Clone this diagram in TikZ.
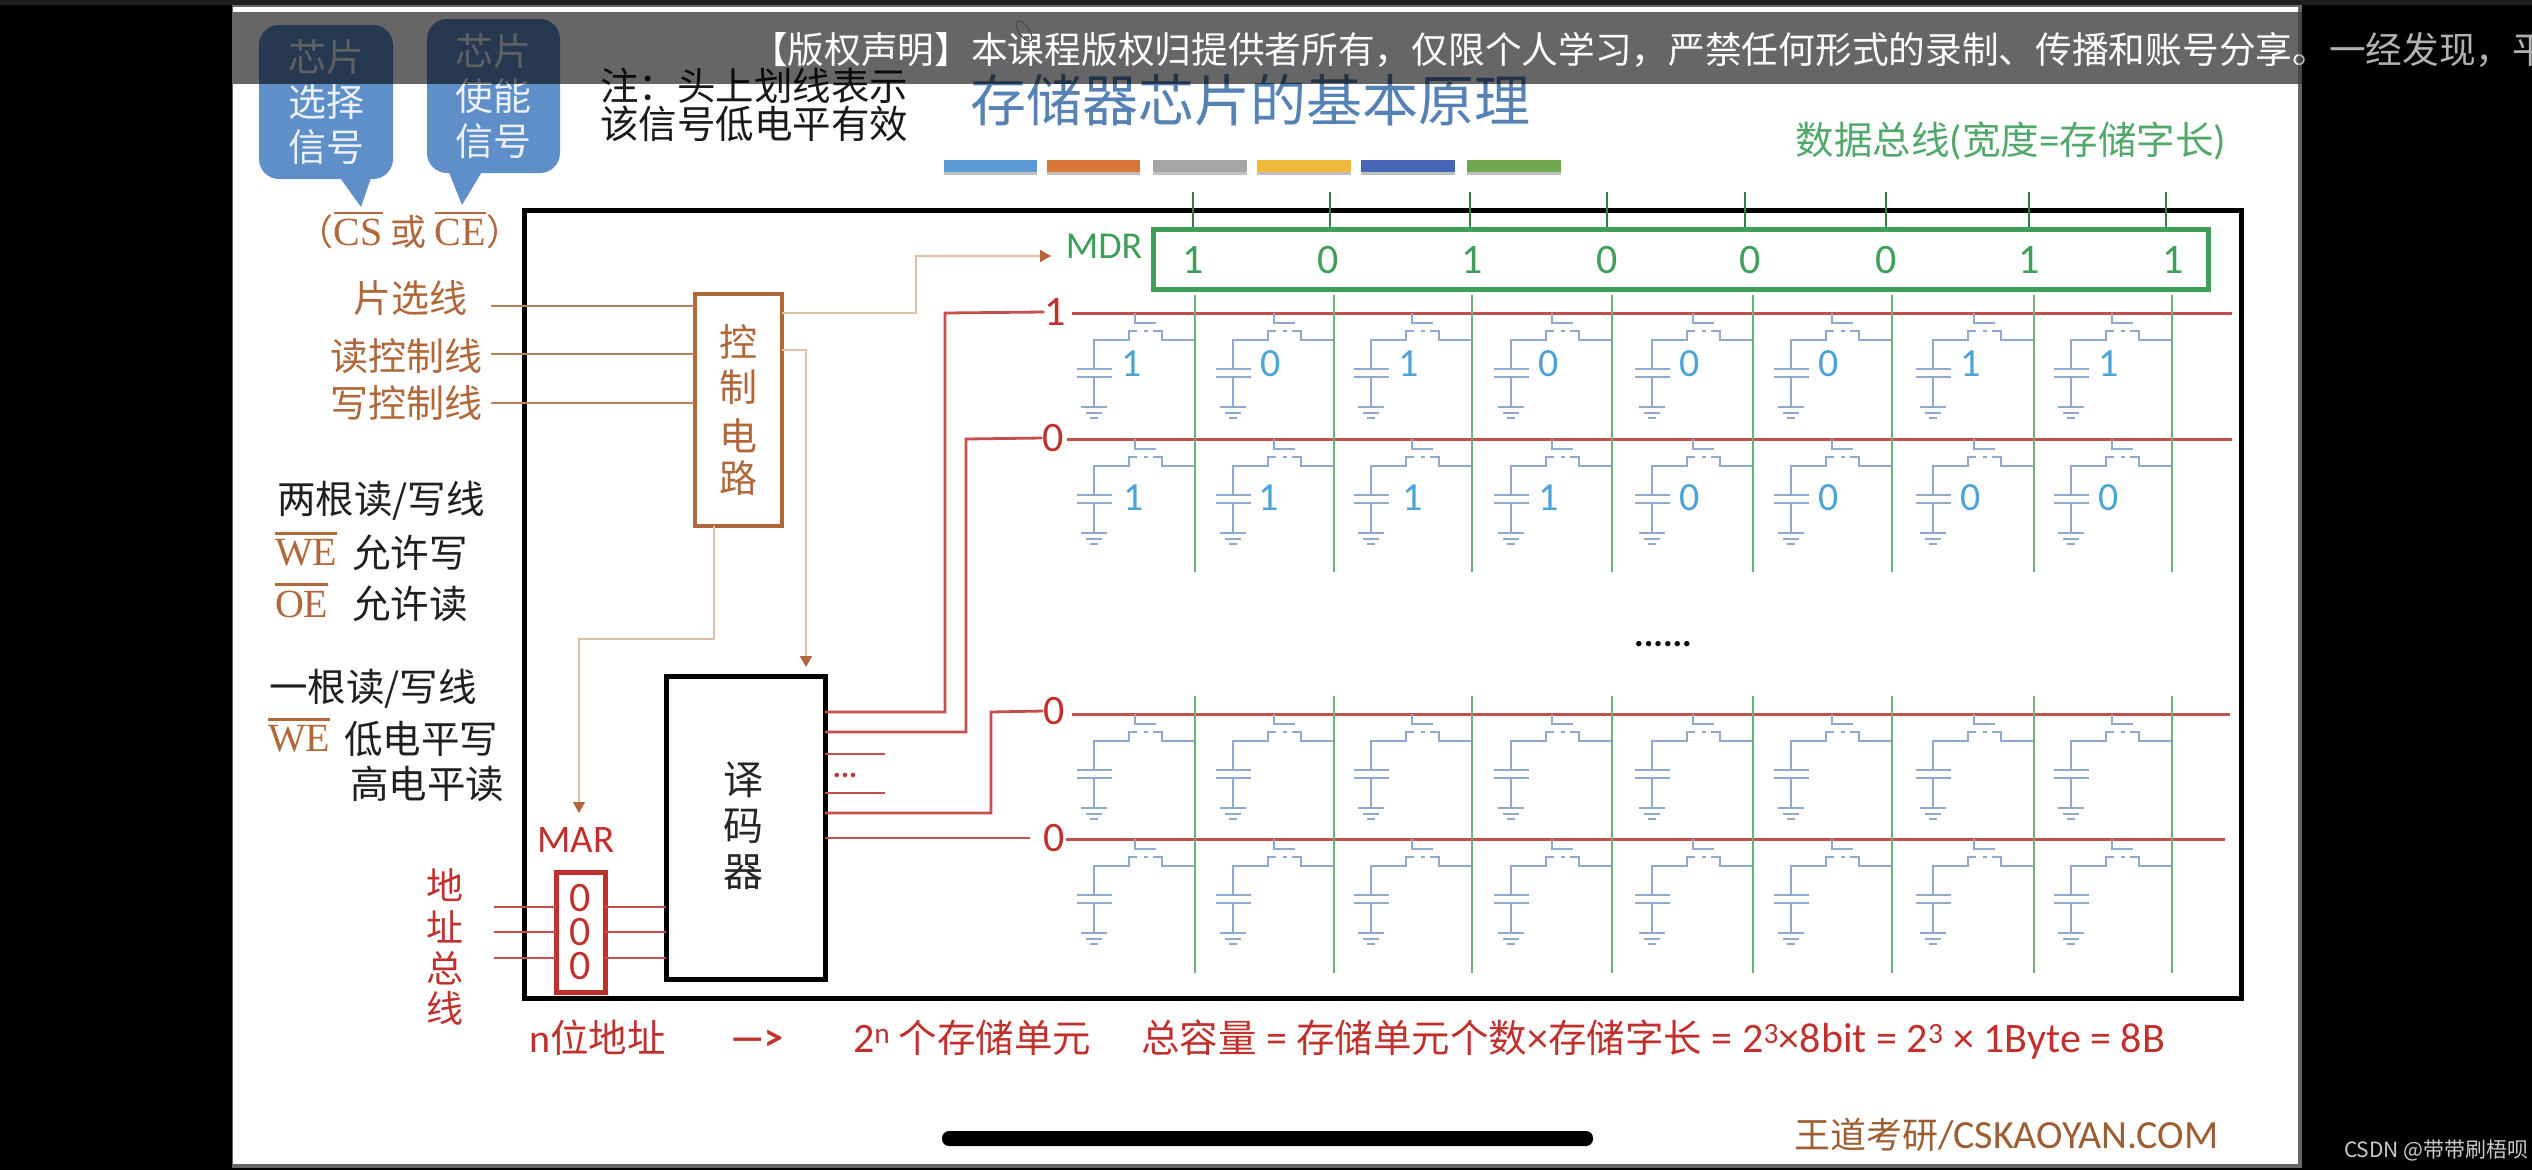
\documentclass[tikz,border=0pt]{standalone}
\usepackage{fontspec}
\usetikzlibrary{arrows.meta,shapes.geometric}
\setmainfont{Noto Sans CJK SC}
\newfontfamily\lat{Carlito}
\newfontfamily\ser{Liberation Serif}
\newcommand\fsz[1]{\fontsize{#1}{#1}\selectfont}
\newcommand\ovl[1]{\setbox0=\hbox{#1}\rlap{\smash{\raisebox{0.78em}{\rule{\wd0}{2.6pt}}}}\box0 }
\definecolor{slideblue}{HTML}{5F8FC8}
\definecolor{brownc}{HTML}{B0683A}
\definecolor{brownl}{HTML}{DDBFA6}
\definecolor{redc}{HTML}{C0302C}
\definecolor{redl}{HTML}{C4504C}
\definecolor{greenc}{HTML}{3F9E5A}
\definecolor{greenl}{HTML}{6DB07A}
\definecolor{cellc}{HTML}{8FA8CC}
\definecolor{digb}{HTML}{4BA3D8}
\tikzset{
  lbl/.style={inner sep=0pt,outer sep=0pt},
  cjk/.style={lbl,font=\fsz{#1}},
  cjk/.default=38,
  box/.style={inner sep=0pt,outer sep=0pt,anchor=north west},
  browntxt/.style={lbl,font=\fsz{38},text=brownc},
  blacktxt/.style={lbl,font=\fsz{38.5},text=black!88},
  redtxt/.style={lbl,font=\fsz{38.5},text=redc},
  sertxt/.style={lbl,font={\ser\fsz{40}},text=brownc,anchor=west},
  dig/.style={lbl,font={\lat\fsz{42}}},
  callout/.style={fill=slideblue,rounded corners=20pt,minimum width=#1,minimum height=154pt,inner sep=0pt,outer sep=0pt,anchor=north west,align=center,font=\fontsize{38}{45}\selectfont,text=white!88!slideblue},
  ctl/.style={draw=brownl,line width=1.8pt},
  ctlarrow/.style={ctl,-{Triangle[length=11pt,width=12pt,color=brownc]}},
  inwire/.style={draw=brownc!85,line width=2pt},
  redwire/.style={draw=redl,line width=2.8pt},
  wordline/.style={draw=redl,line width=3pt},
  bitline/.style={draw=greenl,line width=2.6pt},
  celline/.style={draw=cellc,line width=2pt},
}
\begin{document}
\begin{tikzpicture}[x=1pt,y=-1pt]
\useasboundingbox (0,0) rectangle (2532,1170);
\clip (0,0) rectangle (2532,1170);
% screen
\fill[black] (0,0) rectangle (2532,1170);
\fill[black!88] (0,0) rectangle (2532,5);
\fill[black!60] (232,5) rectangle (2302,1168);
\fill[white] (233,7) rectangle (2298,1164);

% callouts
\node[callout=134pt] (cs) at (259,25) {芯片\\选择\\信号};
\fill[slideblue] (338,175) -- (361,207) -- (372,175) -- cycle;
\node[callout=133pt] (ce) at (427,19) {芯片\\使能\\信号};
\fill[slideblue] (448,170) -- (462,205) -- (483,170) -- cycle;

% note and title
\node[cjk=38.5,text=black!90] (note1) at (754,86) {注：头上划线表示};
\node[cjk=38.5,text=black!90] (note2) at (754,124) {该信号低电平有效};
\node[lbl,font=\fsz{56},text=slideblue!90!black] (title) at (1250,100) {存储器芯片的基本原理};
\foreach \xa/\xb/\c in {944/1037/5B9BD5,1047/1140/D9763A,1153/1247/A5A5A5,1257/1351/F0B93A,1361/1455/4466B5,1467/1561/70A84F}{
  \fill[black!25] (\xa,163) rectangle (\xb,175);
  \definecolor{barc}{HTML}{\c}
  \fill[barc] (\xa,160) rectangle (\xb,172);
}
\node[lbl,font=\fsz{38.5},text=greenc!90] (dbus) at (2011,141) {数据总线{\lat\fsz{41}(}宽度{\lat\fsz{41}=}存储字长{\lat\fsz{41})}};

% main frame
\node[box,draw=black,line width=5pt,minimum width=1717pt,minimum height=788pt] (frame) at (524,210) {};

% MDR
\foreach \x in {1193,1330,1470,1607,1745,1886,2029,2166}{
  \draw[draw=greenc!80!black,line width=1.6pt] (\x,192) -- (\x,229);
}
\node[box,draw=greenc,line width=5pt,minimum width=1055pt,minimum height=60pt] (mdr) at (1153,229) {};
\node[lbl,font={\lat\fsz{38}},text=greenc] (mdrlabel) at (1104,246) {MDR};
\foreach \x/\d in {1193/1,1328/0,1472/1,1607/0,1750/0,1886/0,2029/1,2173/1}{
  \node[dig,text=greenc] (m\x) at (\x,260) {\d};
}

% word lines and labels
\node[dig,text=redc] (w1) at (1055,312) {1};
\node[dig,text=redc] (w2) at (1053,438) {0};
\node[dig,text=redc] (w3) at (1054,711) {0};
\node[dig,text=redc] (w4) at (1054,838) {0};
\coordinate (e1) at (2232,313);
\coordinate (e2) at (2232,439);
\coordinate (e3) at (2230,714);
\coordinate (e4) at (2225,839);
\draw[wordline] (1072,313) -- (e1);
\draw[wordline] (1067,439) -- (e2);
\draw[wordline] (1072,714) -- (e3);
\draw[wordline] (1066,839) -- (e4);

% memory cells
\foreach \B in {1195,1334,1472,1612,1753,1892,2034,2172}{
  \foreach \W in {313,439,714,839}{
    \begin{scope}[shift={(\B,\W)}]
      \draw[celline] (-60,0) -- (-60,10) -- (-39,10);
      \draw[celline] (0,27) -- (-33,27) -- (-33,18) -- (-42,18);
      \draw[celline] (-47,18) -- (-51,18);
      \draw[celline] (-58,18) -- (-66,18) -- (-66,27) -- (-101,27) -- (-101,56);
      \draw[celline] (-118,56) -- (-83,56);
      \draw[celline] (-118,64) -- (-83,64);
      \draw[celline] (-101,64) -- (-101,94);
      \draw[celline] (-114,94) -- (-88,94);
      \draw[celline] (-109,100) -- (-93,100);
      \draw[celline] (-105,105) -- (-97,105);
    \end{scope}
  }
  \draw[bitline] (\B,295) -- (\B,572);
  \draw[bitline,line width=2pt] (\B,696) -- (\B,973);
}
\foreach \x/\d in {1132/1,1271/0,1409/1,1549/0,1690/0,1829/0,1971/1,2109/1}{
  \node[dig,font={\lat\fsz{40}},text=digb] (r\x) at (\x,364) {\d};
}
\foreach \x/\d in {1134/1,1269/1,1413/1,1549/1,1690/0,1829/0,1971/0,2109/0}{
  \node[dig,font={\lat\fsz{40}},text=digb] (s\x) at (\x,498) {\d};
}
\node[lbl,font={\bfseries\lat\fsz{36}},text=black] (dots) at (1663,644) {......};

% decoder
\node[box,draw=black,fill=white,line width=5pt,minimum width=159pt,minimum height=303pt] (dec) at (666,676) {};
\node[cjk=40,text=black!85] (d1) at (743,780) {译};
\node[cjk=40,text=black!85] (d2) at (743,826) {码};
\node[cjk=40,text=black!85] (d3) at (743,872) {器};
\draw[redwire] (dec.east |- 0,712) -- (945,712) -- (945,313) -- (w1.west);
\draw[redwire] (dec.east |- 0,732) -- (966,732) -- (966,439) -- (w2.west);
\draw[redwire] (dec.east |- 0,813) -- (991,813) -- (991,712) -- (w3.west);
\draw[redwire] (dec.east |- 0,838) -- (1030,838);
\draw[redwire] (dec.east |- 0,754) -- (885,754);
\draw[redwire] (dec.east |- 0,793) -- (885,793);
\node[lbl,font={\bfseries\lat\fsz{30}},text=redc] (rdots) at (845,775) {...};

% MAR
\node[lbl,font={\lat\fsz{39}},text=redc] (marlabel) at (576,840) {MAR};
\node[box,draw=redc,fill=white,line width=5pt,minimum width=49pt,minimum height=120pt] (mar) at (556,872) {};
\foreach \y/\n in {898/a,932/b,966/c}{
  \node[dig,text=redc] (mar\n) at (mar.center |- 0,\y) {0};
}
\foreach \y in {907,932,958}{
  \coordinate (addr) at (494,\y);
  \draw[redwire] (addr) -- (addr -| mar.west);
  \draw[redwire] (mar.east |- addr) -- (dec.west |- addr);
}
\node[cjk=37,text=redc] (a1) at (445,885) {地};
\node[cjk=37,text=redc] (a2) at (445,927) {址};
\node[cjk=37,text=redc] (a3) at (445,968) {总};
\node[cjk=37,text=redc] (a4) at (445,1008) {线};

% control
\node[box,draw=brownc,fill=white,line width=4.5pt,minimum width=87pt,minimum height=232pt] (ctrl) at (695,294) {};
\node[browntxt] (c1) at (738,342) {控};
\node[browntxt] (c2) at (738,387) {制};
\node[browntxt] (c3) at (738,436) {电};
\node[browntxt] (c4) at (738,478) {路};
\node[browntxt,anchor=east] (l1) at (467,298) {片选线};
\node[browntxt,anchor=east] (l2) at (482,356) {读控制线};
\node[browntxt,anchor=east] (l3) at (482,403) {写控制线};
\foreach \y in {306,354,403}{
  \coordinate (inw) at (491,\y);
  \draw[inwire] (inw) -- (inw -| ctrl.west);
}
\coordinate (mdrin) at (1051,256);
\draw[ctlarrow] (ctrl.east |- 0,313) -- (916,313) -- (916,256) -- (mdrin);
\draw[ctlarrow] (ctrl.east |- 0,350) -- (806,350) -- (806,667);
\draw[ctlarrow] (714,526) -- (714,639) -- (579,639) -- (579,813);
\node[lbl,font={\ser\fsz{40}},text=brownc] (cscE) at (410,232) {{\rmfamily\fsz{36}（}\ovl{CS}\kern8pt{\rmfamily\fsz{36}或}\kern8pt\ovl{CE}{\rmfamily\fsz{36}）}};

% side notes
\node[blacktxt,anchor=west] (n1) at (277,501) {两根读/写线};
\node[sertxt] (n2a) at (275,553) {\ovl{WE}};
\node[blacktxt,anchor=west] (n2b) at (352,553) {允许写};
\node[sertxt] (n3a) at (275,604) {\ovl{OE}};
\node[blacktxt,anchor=west] (n3b) at (352,604) {允许读};
\node[blacktxt,anchor=west] (n4) at (269,689) {一根读/写线};
\node[sertxt] (n5a) at (268,739) {\ovl{WE}};
\node[blacktxt,anchor=west] (n5b) at (344,739) {低电平写};
\node[blacktxt,anchor=west] (n6) at (350,784) {高电平读};

% bottom texts
\node[redtxt,anchor=west] (b1) at (529,1038) {{\lat\fsz{40}n}位地址};
\node[lbl,font={\bfseries\lat\fsz{38}},text=redc,anchor=west] (b2) at (730,1040) {—>};
\node[redtxt,anchor=west] (b3) at (853,1038) {{\lat\fsz{42}2\textsuperscript{n}} 个存储单元};
\node[redtxt,anchor=west] (b4) at (1141,1040) {总容量{\lat\fsz{42} = }存储单元个数{\lat\fsz{42}×}存储字长{\lat\fsz{42} = 2\textsuperscript{3}×8bit = 2\textsuperscript{3} × 1Byte = 8B}};
\node[lbl,font=\fsz{36},text=brownc!90!black,anchor=west] (wm) at (1794,1135) {王道考研{\lat\fsz{40}/CSKAOYAN.COM}};

% phone overlays
\node[box,fill=black,rounded corners=7pt,minimum width=651pt,minimum height=15pt] (home) at (942,1131) {};
\node[lbl,font=\fsz{21},text=black!20,anchor=west] (csdn) at (2344,1150) {CSDN @带带刷梧呗};

% banner
\fill[black,opacity=.6] (233,12) rectangle (2298,84);
\node[lbl,font=\fsz{36.7},text=white!92,anchor=west] (banner) at (751,50) {【版权声明】本课程版权归提供者所有，仅限个人学习，严禁任何形式的录制、传播和账号分享。一经发现，平};
\fill[black,opacity=.3] (2298,12) rectangle (2532,84);
\draw[black!70,line width=1.2pt,rotate around={35:(1024,31)}] (1024,31) ellipse (5pt and 12pt);
\end{tikzpicture}
\end{document}
